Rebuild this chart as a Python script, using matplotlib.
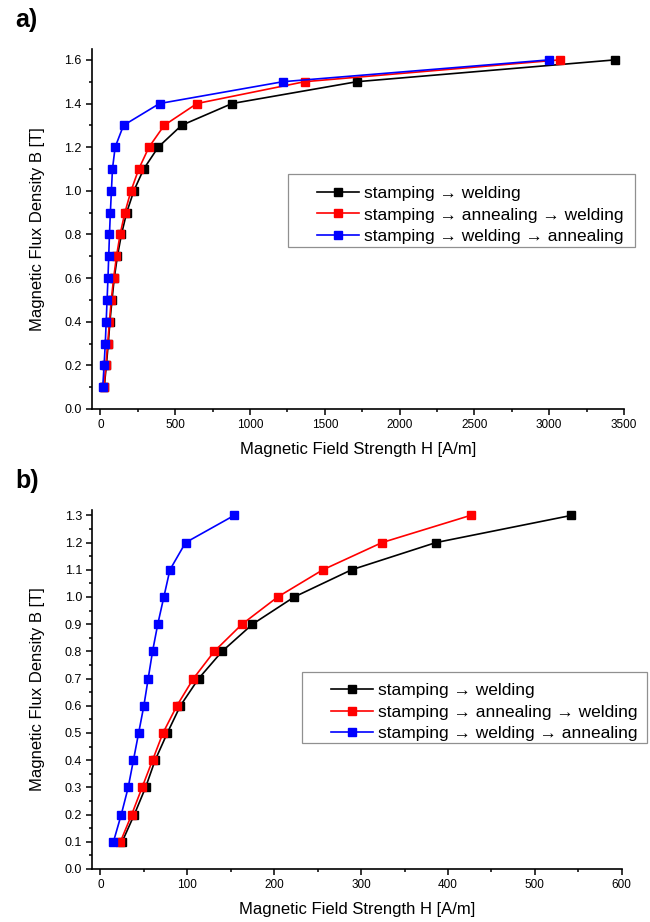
import matplotlib
matplotlib.use("Agg")
import matplotlib.pyplot as plt
from matplotlib.ticker import MultipleLocator
from matplotlib.patches import Rectangle

plt.rcParams['font.family'] = ['Liberation Sans', 'DejaVu Sans']

# flux density levels [T]
B_full = [0.1, 0.2, 0.3, 0.4, 0.5, 0.6, 0.7, 0.8, 0.9, 1.0, 1.1, 1.2, 1.3, 1.4, 1.5, 1.6]

# field strength H [A/m] for each process route
H_stamp_weld = [25, 39, 52, 63, 77, 92, 113, 140, 175, 223, 289, 386, 542, 880, 1715, 3440]
H_stamp_anneal_weld = [23, 36, 48, 60, 72, 88, 107, 131, 163, 204, 256, 324, 426, 645, 1365, 3070]
H_stamp_weld_anneal = [15, 24, 32, 38, 44, 50, 55, 60, 66, 73, 80, 98, 154, 395, 1220, 3000]

labels = ["stamping \u2192 welding",
          "stamping \u2192 annealing \u2192 welding",
          "stamping \u2192 welding \u2192 annealing"]
colors = ["black", "red", "blue"]

n_b = 13  # panel b shows only up to 1.3 T

W, H = 650, 922
fig = plt.figure(figsize=(W / 100, H / 100), dpi=100)
ax_a = fig.add_axes([0.1408, 0.5564, 0.8192, 0.3905])
ax_b = fig.add_axes([0.1411, 0.0575, 0.8155, 0.3894])

series = [H_stamp_weld, H_stamp_anneal_weld, H_stamp_weld_anneal]

for Hs, lab, c in zip(series, labels, colors):
    ax_a.plot(Hs, B_full, color=c, marker='s', ms=5.5, lw=1.2, label=lab)
    ax_b.plot(Hs[:n_b], B_full[:n_b], color=c, marker='s', ms=5.5, lw=1.2, label=lab)

# panel a axes
ax_a.set_xlim(-60, 3500)
ax_a.set_ylim(0, 1.65)
ax_a.xaxis.set_major_locator(MultipleLocator(500))
ax_a.xaxis.set_minor_locator(MultipleLocator(250))
ax_a.yaxis.set_major_locator(MultipleLocator(0.2))
ax_a.yaxis.set_minor_locator(MultipleLocator(0.1))
ax_a.yaxis.set_major_formatter(lambda v, p: f"{v:.1f}")

# panel b axes
ax_b.set_xlim(-10, 600)
ax_b.set_ylim(0, 1.32)
ax_b.xaxis.set_major_locator(MultipleLocator(100))
ax_b.xaxis.set_minor_locator(MultipleLocator(50))
ax_b.yaxis.set_major_locator(MultipleLocator(0.1))
ax_b.yaxis.set_minor_locator(MultipleLocator(0.05))
ax_b.yaxis.set_major_formatter(lambda v, p: f"{v:.1f}")

for ax in (ax_a, ax_b):
    ax.spines['top'].set_visible(False)
    ax.spines['right'].set_visible(False)
    ax.spines['left'].set_linewidth(1.2)
    ax.spines['bottom'].set_linewidth(1.2)
    ax.tick_params(which='major', direction='out', length=4, width=1.1, pad=3)
    ax.tick_params(which='minor', direction='out', length=2.2, width=1.1)
    ax.tick_params(axis='x', labelsize=8.5)
    ax.tick_params(axis='y', labelsize=9)
    ax.set_xlabel("Magnetic Field Strength H [A/m]", fontsize=12, labelpad=8)
    ax.set_ylabel("Magnetic Flux Density B [T]", fontsize=12, labelpad=14)

# legends: handles placed by pixel, frame drawn separately (frame is wider than axes)
leg_kw = dict(fontsize=12.5, frameon=False, handlelength=2.4, handletextpad=0.3,
              borderpad=0, labelspacing=0.36, borderaxespad=0, loc='center left',
              bbox_transform=fig.transFigure)
ax_a.legend(bbox_to_anchor=(317 / W, 1 - 215 / H), **leg_kw)
ax_b.legend(bbox_to_anchor=(331 / W, 1 - 712 / H), **leg_kw)

for x0, y0, x1, y1 in [(288, 174, 635, 247), (302, 672, 647, 743)]:
    fig.patches.append(Rectangle((x0 / W, 1 - y1 / H), (x1 - x0) / W, (y1 - y0) / H,
                                 transform=fig.transFigure, fill=False,
                                 edgecolor='#909090', lw=0.9))

fig.text(0.024, 0.991, "a)", fontsize=18, fontweight='bold', va='top')
fig.text(0.024, 0.491, "b)", fontsize=18, fontweight='bold', va='top')

fig.savefig("out.png", dpi=100)
